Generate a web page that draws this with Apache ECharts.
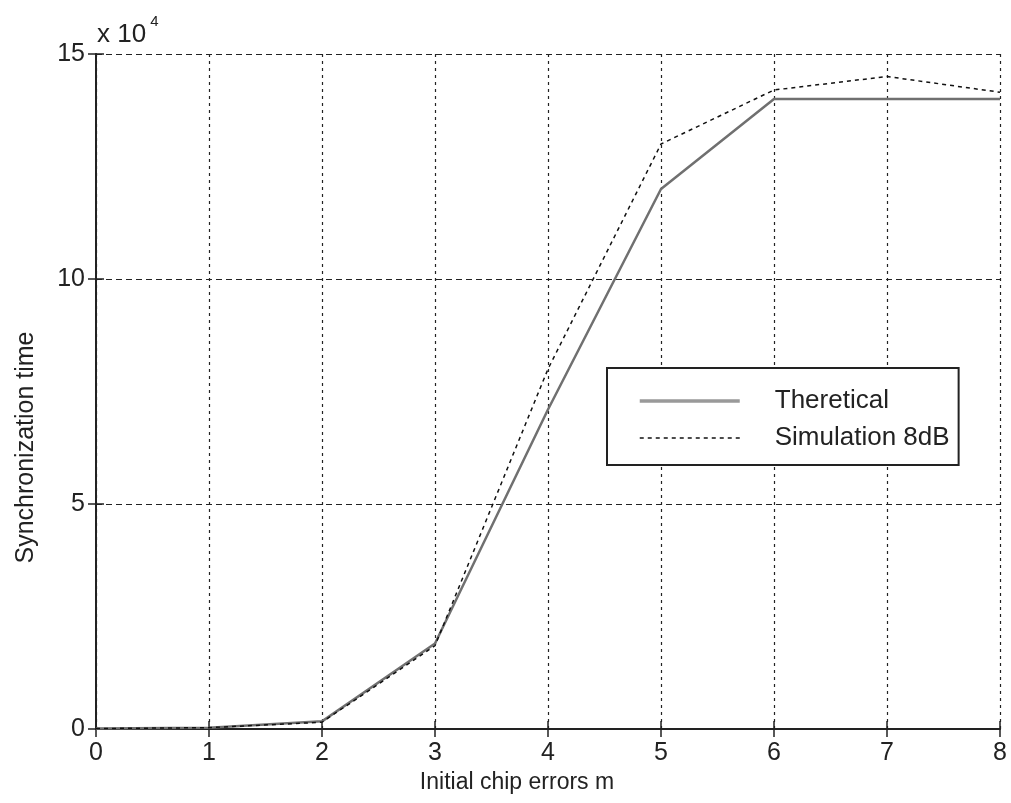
<!DOCTYPE html>
<html>
<head>
<meta charset="utf-8">
<script src="https://cdn.jsdelivr.net/npm/echarts@6/dist/echarts.min.js"></script>
<style>
  html, body { margin: 0; padding: 0; background: #fff; }
  #chart { width: 1011px; height: 803px; }
</style>
</head>
<body>
<div id="chart"></div>
<script>
// initial chip errors m
var chipErrors = [0, 1, 2, 3, 4, 5, 6, 7, 8];
// synchronization time, in units of 10^4
var theoretical = [0.01, 0.03, 0.17, 1.9, 7.1, 12.0, 14.0, 14.0, 14.0];
var simulation8dB = [0.01, 0.03, 0.15, 1.85, 8.0, 13.0, 14.2, 14.5, 14.15];
var yTicks = [0, 5, 10, 15];

var font = 'Liberation Sans, Arial, Helvetica, sans-serif';
var myChart = echarts.init(document.getElementById('chart'));

function pairs(ys) {
  return chipErrors.map(function (x, i) { return [x, ys[i]]; });
}

var option = {
  backgroundColor: '#fff',
  animation: false,
  textStyle: { fontFamily: font, color: '#222' },
  grid: { left: 96, right: 11, top: 54, bottom: 74, containLabel: false },
  legend: {
    orient: 'vertical',
    left: 607,
    top: 368,
    itemWidth: 100,
    itemHeight: 14,
    itemGap: 11,
    padding: [20, 9, 14, 31],
    borderColor: '#222',
    borderWidth: 2,
    backgroundColor: '#fff',
    itemStyle: { opacity: 0 },
    textStyle: { fontSize: 26, color: '#222', fontFamily: font, padding: [0, 0, 0, 30] },
    data: [
      { name: 'Theretical', lineStyle: { color: '#999', width: 3.5 } },
      { name: 'Simulation 8dB', lineStyle: { color: '#111', width: 1.5 } }
    ]
  },
  xAxis: [{
    type: 'value',
    min: 0,
    max: 8,
    interval: 1,
    name: 'Initial chip errors m',
    nameLocation: 'middle',
    nameGap: 42,
    nameTextStyle: { fontSize: 23, color: '#222', padding: [0, 62, 0, 0] },
    axisLine: { onZero: false, lineStyle: { color: '#555', width: 2 } },
    axisTick: { inside: true, length: 8, lineStyle: { color: '#222', width: 1.5 } },
    axisLabel: { fontSize: 25, color: '#222', margin: 12 },
    splitLine: { show: true, lineStyle: { color: '#222', width: 1.2, type: [3, 4] } }
  }, {
    type: 'value',
    position: 'top',
    min: 0,
    max: 8,
    interval: 1,
    axisLine: { show: true, lineStyle: { color: '#222', width: 2 } },
    axisTick: { show: true, inside: true, length: 8, lineStyle: { color: '#222', width: 1.5 } },
    axisLabel: { show: false },
    splitLine: { show: false }
  }],
  yAxis: [{
    type: 'value',
    min: 0,
    max: 15,
    interval: 5,
    name: 'Synchronization time',
    nameLocation: 'middle',
    nameGap: 57,
    nameTextStyle: { fontSize: 25, color: '#222', padding: [0, 112, 0, 0] },
    axisLine: { show: true, onZero: false, lineStyle: { color: '#555', width: 2 } },
    axisTick: { show: true, inside: true, length: 8, lineStyle: { color: '#222', width: 1.5 } },
    axisLabel: {
      fontSize: 25,
      color: '#222',
      margin: 11,
      formatter: function (v) { return yTicks.indexOf(v) >= 0 ? String(v) : ''; }
    },
    splitLine: { show: true, lineStyle: { color: '#222', width: 1.2, type: [6, 4] } }
  }, {
    type: 'value',
    position: 'right',
    min: 0,
    max: 15,
    interval: 5,
    axisLine: { show: true, lineStyle: { color: '#222', width: 2 } },
    axisTick: { show: true, inside: true, length: 8, lineStyle: { color: '#222', width: 1.5 } },
    axisLabel: { show: false },
    splitLine: { show: false }
  }],
  graphic: [{
    type: 'text',
    left: 97,
    top: 14,
    style: {
      text: '{a|x 10}{b|4}',
      fontFamily: font,
      rich: {
        a: { fontSize: 26, fill: '#222', fontFamily: font },
        b: { fontSize: 15, fill: '#222', fontFamily: font, padding: [0, 0, 26, 4] }
      }
    }
  }],
  series: [{
    name: 'Theretical',
    type: 'line',
    data: pairs(theoretical),
    symbol: 'none',
    color: '#8a8a8a',
    lineStyle: { color: '#707070', width: 2.5, type: 'solid' },
    z: 3
  }, {
    name: 'Simulation 8dB',
    type: 'line',
    data: pairs(simulation8dB),
    symbol: 'none',
    color: '#111',
    lineStyle: { color: '#111', width: 1.5, type: [4, 4] },
    z: 4
  }]
};

myChart.setOption(option);
</script>
</body>
</html>
